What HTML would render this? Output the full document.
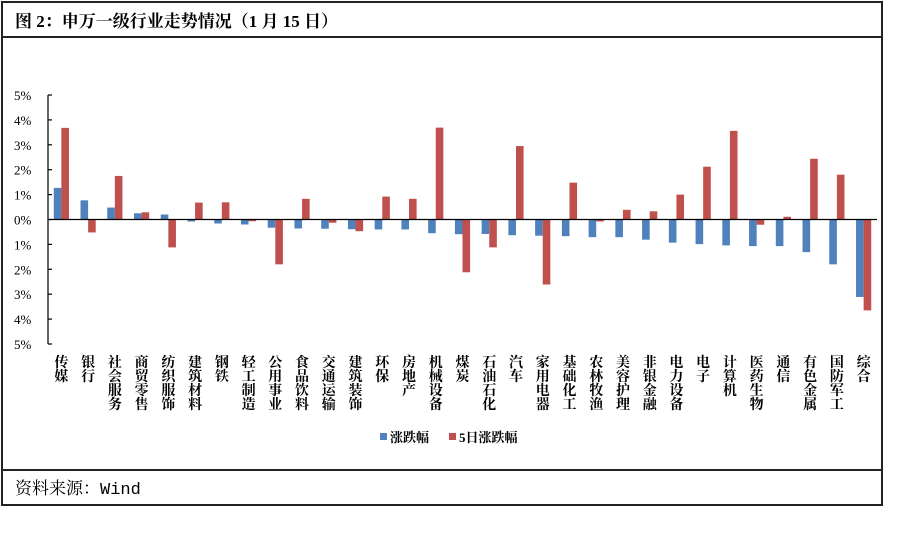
<!DOCTYPE html>
<html><head><meta charset="utf-8"><style>
body{margin:0;background:#fff;width:900px;height:541px;overflow:hidden}
svg text{font-family:"Liberation Serif","Noto Serif CJK SC","Noto Sans CJK SC",serif}
</style></head><body>
<svg id="c" width="900" height="541" xmlns="http://www.w3.org/2000/svg">
<rect x="2" y="2" width="880" height="503" fill="none" stroke="#222" stroke-width="2"/>
<line x1="2" y1="37" x2="882" y2="37" stroke="#222" stroke-width="2"/>
<line x1="2" y1="470" x2="882" y2="470" stroke="#222" stroke-width="2"/>
<text x="15" y="27" font-size="17" font-weight="bold" fill="#000">图 2：申万一级行业走势情况（1 月 15 日）</text>
<text x="15" y="494" font-size="17" fill="#000">资料来源：<tspan font-family="Liberation Mono, monospace">Wind</tspan></text>
<g id="plot"></g>
<g>
<rect x="380" y="433" width="7" height="7" fill="#4f81bd"/>
<text x="390" y="442" font-size="13" font-weight="bold" fill="#000">涨跌幅</text>
<rect x="449" y="433" width="7" height="7" fill="#c0504d"/>
<text x="459" y="442" font-size="13" font-weight="bold" fill="#000">5日涨跌幅</text>
</g>
</svg>
<script>
const categories=["传媒","银行","社会服务","商贸零售","纺织服饰","建筑材料","钢铁","轻工制造","公用事业","食品饮料","交通运输","建筑装饰","环保","房地产","机械设备","煤炭","石油石化","汽车","家用电器","基础化工","农林牧渔","美容护理","非银金融","电力设备","电子","计算机","医药生物","通信","有色金属","国防军工","综合"];
const daily=[1.27,0.77,0.48,0.25,0.2,-0.08,-0.16,-0.2,-0.33,-0.36,-0.37,-0.39,-0.4,-0.4,-0.55,-0.59,-0.58,-0.63,-0.65,-0.67,-0.71,-0.71,-0.81,-0.93,-0.99,-1.04,-1.07,-1.07,-1.31,-1.8,-3.11];
const fiveDay=[3.68,-0.52,1.75,0.29,-1.12,0.68,0.69,-0.07,-1.8,0.83,-0.13,-0.47,0.92,0.83,3.69,-2.12,-1.12,2.95,-2.61,1.48,-0.08,0.39,0.33,1.0,2.12,3.56,-0.21,0.11,2.44,1.8,-3.65];
const yTicks=[5,4,3,2,1,0,-1,-2,-3,-4,-5];
const yTickLabels=["5%","4%","3%","2%","1%","0%","1%","2%","3%","4%","5%"];
const NS="http://www.w3.org/2000/svg";
const g=document.getElementById('plot');
const x0=48,x1=877,yTop=95,yBot=344,yMin=-5,yMax=5;
const step=(x1-x0)/categories.length;
function y(v){return yTop+(yMax-v)/(yMax-yMin)*(yBot-yTop);}
function xc(i){return x0+step*(i+0.5);}
function mk(t,a){const e=document.createElementNS(NS,t);for(const k in a)e.setAttribute(k,a[k]);g.appendChild(e);return e;}
let ax=mk('line',{x1:x0,y1:yTop,x2:x0,y2:yBot,stroke:'#000','stroke-width':1.2});


yTicks.forEach((t,i)=>{
 const tk=mk('line',{x1:x0,y1:y(t),x2:x0+4,y2:y(t),stroke:'#000','stroke-width':1.2});
 
 
 const tx=mk('text',{x:14,y:y(t)+5,'font-size':13,fill:'#000'});
 tx.textContent=yTickLabels[i];
 
 
});
const bw=7.6;
categories.forEach((c,i)=>{
 const cx=xc(i);
 const v1=daily[i],v2=fiveDay[i];
 const b1=mk('rect',{x:cx-bw,y:Math.min(y(v1),y(0)),width:bw,height:Math.abs(y(v1)-y(0)),fill:'#4f81bd'});
 
 
 const b2=mk('rect',{x:cx,y:Math.min(y(v2),y(0)),width:bw,height:Math.abs(y(v2)-y(0)),fill:'#c0504d'});
 
 
 const t=mk('text',{x:cx,y:367,'font-size':14,'font-weight':'bold','text-anchor':'middle',fill:'#000'});
 
 
 [...c].forEach((ch,k)=>{const s=document.createElementNS(NS,'tspan');s.setAttribute('x',cx);s.setAttribute('dy',k?14:0);s.textContent=ch;t.appendChild(s);});
});
const zl=mk('line',{x1:x0,y1:y(0),x2:x1,y2:y(0),stroke:'#000','stroke-width':1.3});


</script>
</body></html>
